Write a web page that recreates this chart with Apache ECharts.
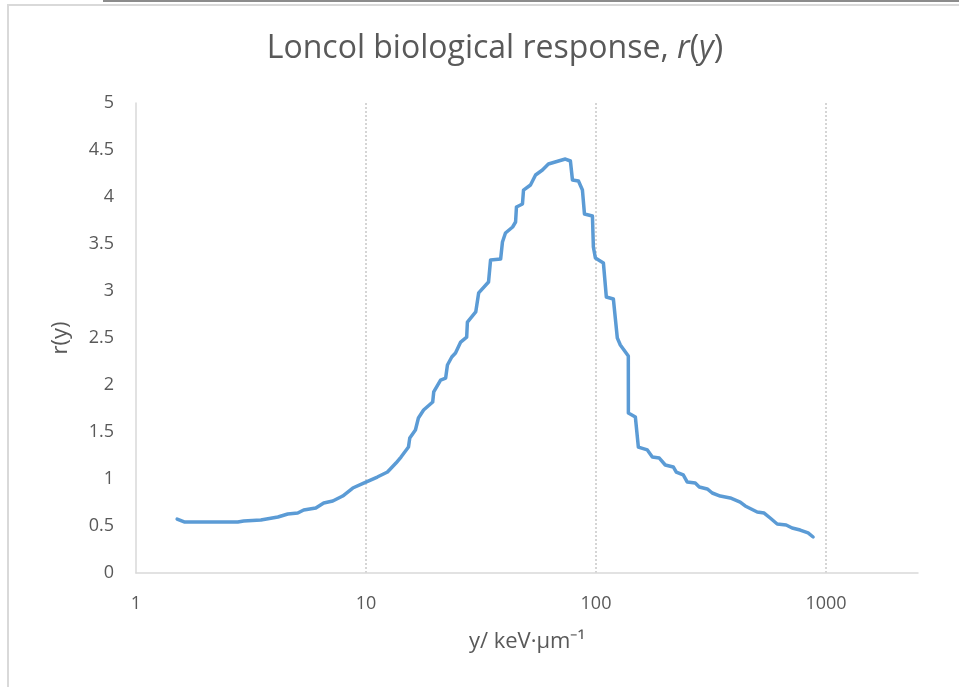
<!DOCTYPE html>
<html>
<head>
<meta charset="utf-8">
<script src="https://cdn.jsdelivr.net/npm/echarts@6/dist/echarts.min.js"></script>
<style>
html,body{margin:0;padding:0;background:#fff;}
#c{width:959px;height:687px;}
</style>
</head>
<body>
<div id="c"></div>
<script>
// lineal energy y (keV/um)
const yValues = [1.51,1.62,2.77,2.94,3.49,4.14,4.57,5.05,5.36,6.05,6.55,7.17,7.92,8.76,9.77,11.2,12.4,13.5,14.2,15.3,15.5,16.4,16.9,17.8,19.5,19.7,21.1,22.2,22.6,23.6,24.5,25.8,27.4,27.6,30.0,30.9,34.1,34.8,38.5,39.2,40.4,43.4,44.7,45.1,47.9,48.4,51.9,54.6,58.5,62.1,68.7,73.6,77.4,79.0,83.9,87.3,89.1,96.5,97.4,99.4,107.7,110.9,119.0,123.8,127.6,138.2,138.3,148.3,152.8,167.2,175.8,188.5,200.1,216.8,223.4,239.5,249.4,270.1,281.2,304.6,320.2,346.9,383.5,423.6,445.4,502.2,538.4,571.9,613.5,671.2,712.6,772,836,879];
// biological response r(y)
const rValues = [0.574,0.543,0.543,0.553,0.564,0.596,0.628,0.638,0.670,0.691,0.745,0.766,0.819,0.904,0.957,1.021,1.074,1.170,1.234,1.340,1.436,1.521,1.649,1.734,1.819,1.926,2.053,2.074,2.213,2.298,2.340,2.457,2.510,2.670,2.777,2.98,3.096,3.330,3.340,3.521,3.617,3.681,3.734,3.894,3.926,4.074,4.128,4.234,4.287,4.351,4.383,4.404,4.383,4.181,4.170,4.074,3.819,3.798,3.468,3.351,3.298,2.936,2.915,2.500,2.426,2.309,1.702,1.660,1.340,1.309,1.234,1.223,1.149,1.128,1.074,1.043,0.968,0.957,0.915,0.894,0.851,0.819,0.798,0.755,0.713,0.649,0.638,0.585,0.521,0.511,0.479,0.457,0.426,0.383];
const xTicks = [1,10,100,1000];
const yTicks = [0,0.5,1,1.5,2,2.5,3,3.5,4,4.5,5];

const FONT = '"Open Sans", sans-serif';
const chart = echarts.init(document.getElementById('c'), null, {renderer:'canvas'});
const data = yValues.map((v,i)=>[v, rValues[i]]);
chart.setOption({
  animation:false,
  backgroundColor:'#ffffff',
  title:{
    text:'Loncol biological response, {i|r}({i|y})',
    left:490, top:28, textAlign:'center',
    textStyle:{
      fontFamily:FONT, fontSize:32, fontWeight:'normal', color:'#595959',
      rich:{i:{fontFamily:FONT, fontSize:32, fontStyle:'italic', color:'#595959'}}
    }
  },
  graphic:[
    {type:'rect', shape:{x:7,y:4,width:960,height:2}, style:{fill:'#d9d9d9'}, silent:true},
    {type:'rect', shape:{x:7,y:4,width:2,height:690}, style:{fill:'#d9d9d9'}, silent:true},
    {type:'rect', shape:{x:103,y:0,width:860,height:2}, style:{fill:'#8c8c8c'}, silent:true}
  ],
  grid:{left:136, right:41, top:103, bottom:114, containLabel:false},
  xAxis:{
    type:'log', logBase:10, min:1, max:2512,
    name:'y/ keV·μm⁻¹', nameLocation:'middle', nameGap:58,
    nameTextStyle:{fontFamily:FONT, fontSize:22, color:'#595959'},
    axisLine:{show:true, lineStyle:{color:'#d9d9d9', width:1.5}},
    axisTick:{show:false},
    axisLabel:{fontFamily:FONT, fontSize:18, color:'#595959', margin:22,
      formatter:(v)=> xTicks.includes(Math.round(v)) ? String(Math.round(v)) : ''},
    splitLine:{show:true, showMinLine:false, showMaxLine:false, lineStyle:{color:'#c8c8c8', type:[2,2], width:1.5}},
    minorSplitLine:{show:false}
  },
  yAxis:{
    type:'value', min:yTicks[0], max:yTicks[yTicks.length-1], interval:0.5,
    name:'r(y)', nameLocation:'middle', nameGap:64, nameRotate:90,
    nameTextStyle:{fontFamily:FONT, fontSize:22, color:'#595959'},
    axisLine:{show:true, lineStyle:{color:'#d9d9d9', width:1.5}},
    axisTick:{show:false},
    axisLabel:{fontFamily:FONT, fontSize:18, color:'#595959', margin:22},
    splitLine:{show:false}
  },
  series:[{
    type:'line', data:data, showSymbol:false, symbol:'none',
    lineStyle:{color:'#5b9bd5', width:3.5, join:'round', cap:'round'},
    smooth:false
  }]
});
</script>
</body>
</html>
